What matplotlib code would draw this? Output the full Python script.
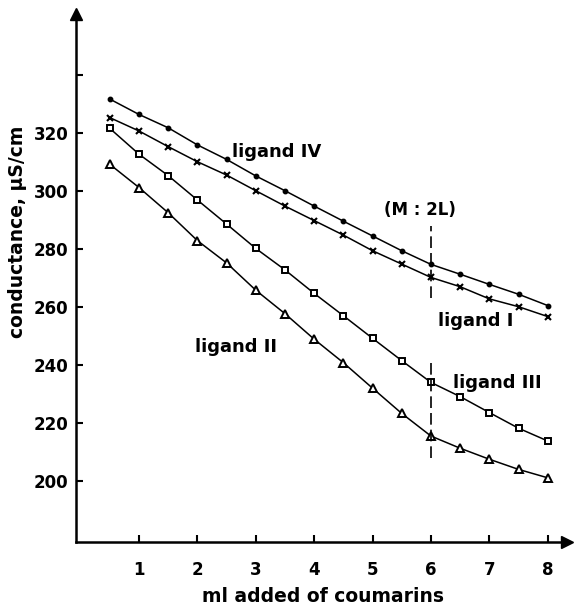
import numpy as np
import matplotlib.pyplot as plt

# 加入的香豆素体积 (ml)
ml_added = [0.5, 1, 1.5, 2, 2.5, 3, 3.5, 4, 4.5, 5, 5.5, 6, 6.5, 7, 7.5, 8]

# 电导率 (μS/cm)
ligand_iv = [331.7, 326.4, 321.8, 315.9, 310.9, 305.2, 300.1, 294.8,
             289.6, 284.5, 279.4, 274.7, 271.3, 267.8, 264.4, 260.5]
ligand_i = [325.3, 320.7, 315.3, 310.1, 305.5, 300.1, 294.8, 289.8,
            284.8, 279.4, 274.8, 270.2, 267.0, 262.8, 260.1, 256.7]
ligand_iii = [321.6, 312.7, 305.3, 296.9, 288.6, 280.2, 272.8, 264.7,
              257.0, 249.2, 241.5, 234.0, 229.1, 223.6, 218.2, 213.8]
ligand_ii = [309.2, 301.2, 292.5, 282.9, 275.2, 265.8, 257.7, 248.9,
             240.8, 232.0, 223.3, 215.5, 211.3, 207.5, 204.0, 201.1]

x_ticks = [1, 2, 3, 4, 5, 6, 7, 8]
y_ticks = [200, 220, 240, 260, 280, 300, 320, 340]
y_tick_labels = ['200', '220', '240', '260', '280', '300', '320', '']

# M:2L 终点
end_point = 6
upper_mark = [263, 288]
lower_mark = [208, 242]

plt.rcParams['font.family'] = ['DejaVu Sans']

fig = plt.figure(figsize=(5.74, 6.09), dpi=100)
W, H = 574, 609
ax = fig.add_axes([76.5 / W, 1 - 541.9 / H, (567 - 76.5) / W, (541.9 - 14.1) / H])
ax.set_xlim(-0.07, 8.33)
ax.set_ylim(179, 361)

lw = 1.1
ax.plot(ml_added, ligand_iv, '-', color='black', lw=lw, marker='o', ms=3.2)
ax.plot(ml_added, ligand_i, '-', color='black', lw=lw, marker='x', ms=5, mew=1.5)
ax.plot(ml_added, ligand_iii, '-', color='black', lw=lw, marker='s', ms=4.6,
        mfc='white', mew=1.4)
ax.plot(ml_added, ligand_ii, '-', color='black', lw=lw, marker='^', ms=5.4,
        mfc='white', mew=1.4)

ax.plot([end_point, end_point], upper_mark, color='black', lw=1.2, ls=(0, (7, 3)))
ax.plot([end_point, end_point], lower_mark, color='black', lw=1.2, ls=(0, (7, 3)))

tkw = dict(fontsize=13, fontweight='bold', va='center', ha='left')
ax.text(2.59, 313.6, 'ligand IV', **tkw)
ax.text(6.12, 255.0, 'ligand I', **tkw)
ax.text(6.38, 233.7, 'ligand III', **tkw)
ax.text(1.96, 246.3, 'ligand II', **tkw)
ax.text(5.81, 293.4, '(M : 2L)', fontsize=12, fontweight='bold', ha='center', va='center')

# 坐标轴
for s in ['top', 'right']:
    ax.spines[s].set_visible(False)
for s in ['left', 'bottom']:
    ax.spines[s].set_linewidth(1.8)
ax.plot(1, 0, '>k', ms=8, transform=ax.transAxes, clip_on=False)
ax.plot(0, 1, '^k', ms=8, transform=ax.transAxes, clip_on=False)

ax.set_xticks(x_ticks)
ax.set_yticks(y_ticks)
ax.set_yticklabels(y_tick_labels)
ax.tick_params(axis='both', direction='in', length=5, width=1.5, labelsize=12)
ax.tick_params(axis='y', pad=6)
ax.tick_params(axis='x', pad=14)
for lab in ax.get_xticklabels() + ax.get_yticklabels():
    lab.set_fontweight('bold')

fig.text(323 / W, 1 - 597 / H, 'ml added of coumarins', fontsize=13.5,
         fontweight='bold', ha='center', va='center')
fig.text(18 / W, 1 - 232 / H, 'conductance, μS/cm', fontsize=13.5,
         fontweight='bold', ha='center', va='center', rotation=90)

fig.savefig('out.png', dpi=100)
